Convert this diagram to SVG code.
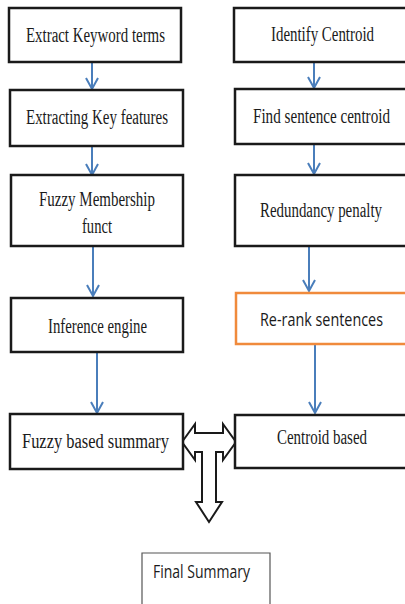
<svg xmlns="http://www.w3.org/2000/svg" width="405" height="604" viewBox="0 0 405 604">
<defs>
<style>
.box{fill:#fff;stroke:#1a1a1a;stroke-width:2.5}
.obox{fill:#fff;stroke:#f08a3c;stroke-width:2.5}
.fbox{fill:#fff;stroke:#555;stroke-width:1.2}
.t{font-family:"Liberation Serif","Times New Roman",serif;font-size:20px;fill:#1a1a1a;text-anchor:middle}
.s{font-family:"Open Sans","Liberation Sans",sans-serif;font-size:18px;fill:#1a1a1a;text-anchor:middle}
.arr{stroke:#4a7ebb;stroke-width:2;fill:none;marker-end:url(#v)}
</style>
<marker id="v" markerUnits="userSpaceOnUse" viewBox="-12 -8 14 16" markerWidth="14" markerHeight="16" refX="0" refY="0" orient="auto" overflow="visible">
<path d="M-11,-6 L0,0 L-11,6" fill="none" stroke="#4a7ebb" stroke-width="2"/>
</marker>
</defs>
<rect width="405" height="604" fill="#fff"/>
<g id="connectors">
<line class="arr" x1="92" y1="62" x2="92" y2="89"/>
<line class="arr" x1="92" y1="146" x2="92" y2="175"/>
<line class="arr" x1="93" y1="246" x2="93" y2="296"/>
<line class="arr" x1="97" y1="335" x2="97" y2="413"/>
<line class="arr" x1="314" y1="62" x2="314" y2="88"/>
<line class="arr" x1="314" y1="144" x2="314" y2="174"/>
<line class="arr" x1="309" y1="246" x2="309" y2="291"/>
<line class="arr" x1="315" y1="344" x2="315" y2="413"/>
<polygon id="block-arrow" points="182,442 195,424 195,433 223,433 223,424 236,442 223,460 223,452 216,452 216,502 222,502 209,522 196,502 202,502 202,452 195,452 195,460" fill="#fff" stroke="#1a1a1a" stroke-width="2" stroke-linejoin="miter"/>
</g>
<g id="n1"><rect class="box" x="9" y="8" width="172" height="54"/><text class="t" x="95.5" y="42" textLength="139" lengthAdjust="spacingAndGlyphs">Extract Keyword terms</text></g>
<g id="n2"><rect class="box" x="10" y="90" width="173" height="56"/><text class="t" x="97" y="124" textLength="142" lengthAdjust="spacingAndGlyphs">Extracting Key features</text></g>
<g id="n3"><rect class="box" x="11" y="175" width="172" height="71"/><text class="t" x="97" y="206" textLength="116" lengthAdjust="spacingAndGlyphs">Fuzzy Membership</text><text class="t" x="97" y="233" textLength="30" lengthAdjust="spacingAndGlyphs">funct</text></g>
<g id="n4"><rect class="box" x="11" y="298" width="172" height="54"/><text class="t" x="97.5" y="333" textLength="99" lengthAdjust="spacingAndGlyphs">Inference engine</text></g>
<g id="n5"><rect class="box" x="10" y="414" width="173" height="55"/><text class="t" x="95.5" y="448" textLength="147" lengthAdjust="spacingAndGlyphs">Fuzzy based summary</text></g>
<g id="r1"><path class="box" d="M405,8 H234 V62 H405"/><text class="t" x="322.5" y="41" textLength="103" lengthAdjust="spacingAndGlyphs">Identify Centroid</text></g>
<g id="r2"><path class="box" d="M405,89 H235 V144 H405"/><text class="t" x="321.5" y="123" textLength="137" lengthAdjust="spacingAndGlyphs">Find sentence centroid</text></g>
<g id="r3"><path class="box" d="M405,175 H235 V246 H405"/><text class="t" x="321" y="217" textLength="122" lengthAdjust="spacingAndGlyphs">Redundancy penalty</text></g>
<g id="r4"><path class="obox" d="M405,293 H236 V344 H405"/><text class="s" x="321.5" y="326" textLength="123" lengthAdjust="spacingAndGlyphs">Re-rank sentences</text></g>
<g id="r5"><path class="box" d="M405,415 H235 V468 H405"/><text class="t" x="322" y="444" textLength="90" lengthAdjust="spacingAndGlyphs">Centroid based</text></g>
<g id="final"><path class="fbox" d="M142,604 V553 H270 V604"/><text class="s" x="201.5" y="578" textLength="97" lengthAdjust="spacingAndGlyphs">Final Summary</text></g>
</svg>
